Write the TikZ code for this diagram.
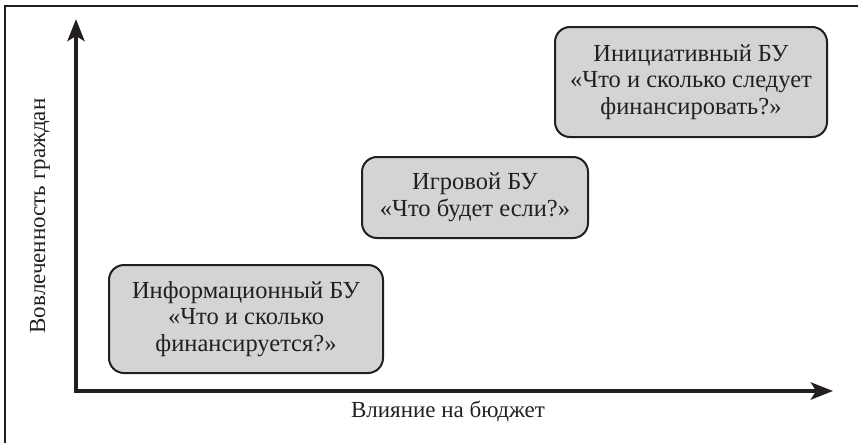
\documentclass[tikz,border=0pt]{standalone}
\usepackage{fontspec}
\setmainfont{Liberation Serif}
\usetikzlibrary{arrows.meta}
\definecolor{ink}{HTML}{231F20}
\definecolor{boxgray}{HTML}{D4D4D4}
\begin{document}
\begin{tikzpicture}[x=1pt,y=-1pt,
  frame/.style={draw=ink, line width=2.2pt},
  axis/.style={draw=ink, line width=4.5pt, line join=miter,
    {Stealth[length=22pt,width=17pt,inset=5pt]}-{Stealth[length=22pt,width=17pt,inset=5pt]}},
  bubox/.style={draw=ink, line width=2pt, fill=boxgray, rounded corners=15pt,
    inner sep=0pt, align=center, text=ink, font=\fontsize{24.5}{26.5}\selectfont},
  axlabel/.style={text=ink, inner sep=0pt, font=\fontsize{23}{26}\selectfont}]
\useasboundingbox (0,0) rectangle (858,442);
% frame
\coordinate (fbl) at (5,443);
\coordinate (ftl) at (5,6);
\coordinate (ftr) at (859,6);
\draw[frame] (fbl) -- (ftl) -- (ftr);
% axes
\coordinate (ytip) at (76,19);
\coordinate (orig) at (76,391);
\coordinate (xtip) at (833,391);
\draw[axis] (ytip) |- (xtip);
\node[axlabel] (xlab) at (448,411) {Влияние на бюджет};
\node[axlabel, rotate=90] (ylab) at (40,216) {Вовлеченность граждан};
% boxes
\node[bubox, minimum width=274pt, minimum height=108pt] (info) at (246,319)
  {Информационный БУ\\«Что и сколько\\финансируется?»};
\node[bubox, minimum width=226pt, minimum height=81pt] (game) at (475,197.5)
  {Игровой БУ\\«Что будет если?»};
\node[bubox, minimum width=272pt, minimum height=110pt] (init) at (691,82)
  {Инициативный БУ\\«Что и сколько следует\\финансировать?»};
\end{tikzpicture}
\end{document}
